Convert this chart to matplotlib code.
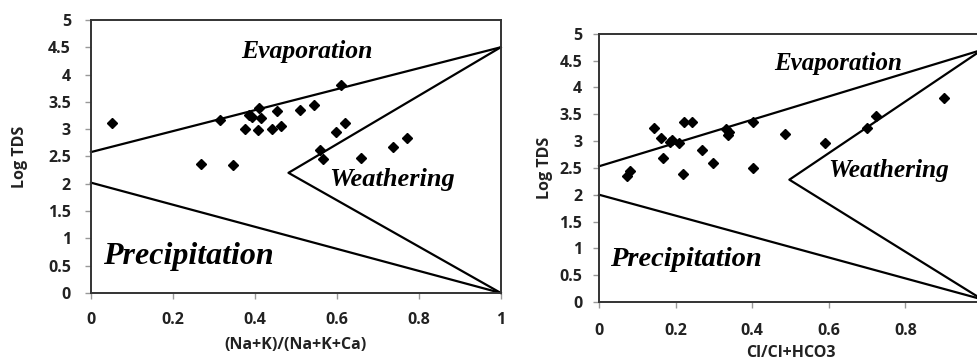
import matplotlib.pyplot as plt

# --- data ---
na_ratio = [0.051, 0.315, 0.269, 0.346, 0.377, 0.386, 0.393, 0.408, 0.411, 0.414,
            0.443, 0.454, 0.463, 0.511, 0.544, 0.611, 0.599, 0.619, 0.558, 0.566,
            0.660, 0.736, 0.771]
na_tds = [3.11, 3.17, 2.36, 2.34, 3.00, 3.26, 3.22, 2.98, 3.38, 3.20,
          3.01, 3.33, 3.06, 3.35, 3.44, 3.81, 2.95, 3.12, 2.62, 2.46,
          2.48, 2.68, 2.83]

cl_ratio = [0.072, 0.081, 0.144, 0.162, 0.166, 0.185, 0.191, 0.210, 0.220, 0.222,
            0.244, 0.270, 0.298, 0.331, 0.336, 0.340, 0.403, 0.401, 0.486, 0.590,
            0.701, 0.722, 0.900]
cl_tds = [2.34, 2.45, 3.25, 3.06, 2.68, 2.99, 3.02, 2.96, 2.38, 3.35,
          3.35, 2.84, 2.60, 3.22, 3.11, 3.16, 3.36, 2.49, 3.13, 2.96,
          3.25, 3.46, 3.80]

# Gibbs boundary lines (x, y)
na_upper = ([0, 1], [2.58, 4.5])
na_lower = ([0, 1], [2.02, 0.0])
na_vee = ([1, 0.482, 1], [4.5, 2.2, 0.0])

cl_upper = ([0, 1], [2.53, 4.7])
cl_lower = ([0, 1], [2.0, 0.05])
cl_vee = ([1, 0.497, 1], [4.7, 2.28, 0.05])

yticks = [0, 0.5, 1, 1.5, 2, 2.5, 3, 3.5, 4, 4.5, 5]
ytick_labels = ['0', '0.5', '1', '1.5', '2', '2.5', '3', '3.5', '4', '4.5', '5']
xticks = [0, 0.2, 0.4, 0.6, 0.8, 1]
xtick_labels = ['0', '0.2', '0.4', '0.6', '0.8', '1']

TICKFONT = {'family': 'Open Sans', 'weight': 'bold', 'size': 11.5}
LABFONT = {'family': 'Open Sans', 'weight': 'bold', 'size': 11.5}
ZONE = {'family': 'Liberation Serif', 'weight': 'bold', 'style': 'italic'}

fig = plt.figure(figsize=(9.78, 3.63), dpi=100)
ax1 = fig.add_axes([0.093, 0.193, 0.419, 0.752])
ax2 = fig.add_axes([0.6125, 0.168, 0.3916, 0.739])


def style_panel(ax, xlabel, xpad, ypad, xlabpad, ylabpad, xlabels):
    ax.set_xlim(0, 1)
    ax.set_ylim(0, 5)
    ax.set_yticks(yticks)
    ax.set_yticklabels(ytick_labels, fontdict=TICKFONT, color='#222222')
    ax.set_xticks(xticks)
    ax.set_xticklabels(xlabels, fontdict=TICKFONT, color='#222222')
    ax.tick_params(axis='both', direction='out', length=4.5, width=1.0,
                   color='#999999')
    ax.tick_params(axis='x', pad=xpad)
    ax.tick_params(axis='y', pad=ypad)
    for s in ax.spines.values():
        s.set_color('#333333')
        s.set_linewidth(1.4)
    ax.set_xlabel(xlabel, fontdict=LABFONT, labelpad=xlabpad, color='#222222')
    ax.set_ylabel('Log TDS', fontdict=LABFONT, labelpad=ylabpad, color='#222222')


# left panel
for xs, ys in (na_upper, na_lower, na_vee):
    ax1.plot(xs, ys, color='black', lw=1.6, clip_on=False)
ax1.plot(na_ratio, na_tds, 'D', color='black', ms=5.5, clip_on=False)
ax1.text(0.527, 4.42, 'Evaporation', fontsize=18.5, ha='center', va='center', **ZONE)
ax1.text(0.734, 2.07, 'Weathering', fontsize=19, ha='center', va='center', **ZONE)
ax1.text(0.238, 0.66, 'Precipitation', fontsize=23, ha='center', va='center', **ZONE)
style_panel(ax1, '(Na+K)/(Na+K+Ca)', 9.5, 10, 6, 14, xtick_labels)

# right panel (cut off at the right edge of the picture)
for xs, ys in (cl_upper, cl_lower, cl_vee):
    ax2.plot(xs, ys, color='black', lw=1.6, clip_on=False)
ax2.plot(cl_ratio, cl_tds, 'D', color='black', ms=5.5, clip_on=False)
ax2.text(0.624, 4.44, 'Evaporation', fontsize=18, ha='center', va='center', **ZONE)
ax2.text(0.757, 2.45, 'Weathering', fontsize=18.3, ha='center', va='center', **ZONE)
ax2.text(0.227, 0.80, 'Precipitation', fontsize=20.5, ha='center', va='center', **ZONE)
style_panel(ax2, 'Cl/Cl+HCO3', 10.5, 7.5, 4.5, 5, xtick_labels[:-1] + [''])

fig.savefig('out.png', dpi=100, facecolor='white')
